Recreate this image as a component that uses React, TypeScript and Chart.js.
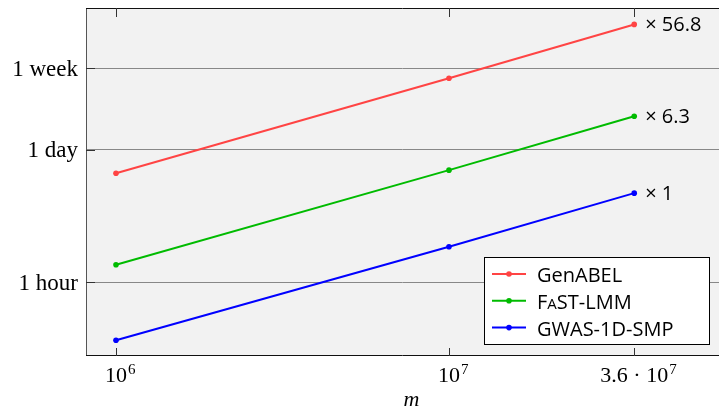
import React, { useEffect, useRef } from "react";
import { Chart, registerables } from "chart.js";
Chart.register(...registerables);

const sizes = [1e6, 1e7, 3.6e7];
const genabel = [49100, 476000, 1730000];
const fastlmm = [5480, 52800, 192000];
const gwas = [899, 8430, 30450];
const seriesNames = ["GenABEL", "FaST-LMM", "GWAS-1D-SMP"];
const seriesColors = ["#ff4444", "#00bb00", "#0000ff"];
const speedupLabels = ["× 56.8", "× 6.3", "× 1"];
const yTickValues = [3600, 86400, 604800];
const yTickLabels = ["1 hour", "1 day", "1 week"];
const xTickValues = [1e6, 1e7, 3.6e7];
const xTickBase = ["10", "10", "3.6 · 10"];
const xTickExp = ["6", "7", "7"];

const SERIF = "'Liberation Serif', 'Times New Roman', serif";
const SANS = "'Open Sans', 'Noto Sans', sans-serif";

const decorPlugin = {
  id: "decor",
  beforeDraw(chart: any) {
    const { ctx, chartArea: a } = chart;
    ctx.save();
    ctx.fillStyle = "#f2f2f2";
    ctx.fillRect(a.left, a.top, a.right - a.left, a.bottom - a.top);
    ctx.restore();
  },
  afterDraw(chart: any) {
    const { ctx, chartArea: a } = chart;
    const xs = chart.scales.x;
    const ys = chart.scales.y;
    ctx.save();
    // borders
    ctx.lineWidth = 1;
    ctx.strokeStyle = "#555555";
    ctx.beginPath();
    ctx.moveTo(a.left + 0.5, a.top);
    ctx.lineTo(a.left + 0.5, a.bottom);
    ctx.stroke();
    ctx.strokeStyle = "#111111";
    ctx.beginPath();
    ctx.moveTo(a.left, a.top + 0.5);
    ctx.lineTo(a.right, a.top + 0.5);
    ctx.moveTo(a.left, a.bottom - 0.5);
    ctx.lineTo(a.right, a.bottom - 0.5);
    ctx.stroke();
    // inward ticks
    ctx.strokeStyle = "#333333";
    ctx.beginPath();
    yTickValues.forEach((v) => {
      const y = Math.round(ys.getPixelForValue(v)) + 0.5;
      ctx.moveTo(a.left, y);
      ctx.lineTo(a.left + 9, y);
    });
    xTickValues.forEach((v) => {
      const x = Math.round(xs.getPixelForValue(v)) + 0.5;
      ctx.moveTo(x, a.bottom);
      ctx.lineTo(x, a.bottom - 8);
      ctx.moveTo(x, a.top);
      ctx.lineTo(x, a.top + 9);
    });
    ctx.stroke();
    // y labels
    ctx.fillStyle = "#000";
    ctx.font = `23px ${SERIF}`;
    ctx.textAlign = "right";
    ctx.textBaseline = "alphabetic";
    yTickValues.forEach((v, i) => {
      const y = ys.getPixelForValue(v);
      ctx.fillText(yTickLabels[i], a.left - 8, y + 7.5);
    });
    // x labels
    xTickValues.forEach((v, i) => {
      const x = xs.getPixelForValue(v);
      ctx.font = `22px ${SERIF}`;
      const bw = ctx.measureText(xTickBase[i]).width;
      ctx.textAlign = "left";
      const x0 = x - bw / 2;
      ctx.fillText(xTickBase[i], x0, a.bottom + 25.5);
      ctx.font = `15px ${SERIF}`;
      ctx.fillText(xTickExp[i], x0 + bw + 1, a.bottom + 18);
    });
    // x title
    ctx.font = `italic 22px ${SERIF}`;
    ctx.textAlign = "center";
    ctx.fillText("m", (a.left + a.right) / 2 + 9, a.bottom + 50);
    // speedup annotations
    ctx.font = `20px ${SANS}`;
    ctx.textAlign = "left";
    ctx.textBaseline = "middle";
    chart.data.datasets.forEach((_: any, i: number) => {
      const meta = chart.getDatasetMeta(i);
      const p = meta.data[meta.data.length - 1];
      ctx.fillText(speedupLabels[i], p.x + 11, p.y + 1);
    });
    // legend
    const bw = 226;
    const bh = 88;
    const bx = a.right - 9 - bw;
    const by = a.bottom - 11 - bh;
    ctx.fillStyle = "#ffffff";
    ctx.fillRect(bx, by, bw, bh);
    ctx.strokeStyle = "#000";
    ctx.lineWidth = 1;
    ctx.strokeRect(bx + 0.5, by + 0.5, bw - 1, bh - 1);
    seriesNames.forEach((name, i) => {
      const ry = by + 17 + i * 26.8;
      ctx.strokeStyle = seriesColors[i];
      ctx.lineWidth = 2;
      ctx.beginPath();
      ctx.moveTo(bx + 8, ry);
      ctx.lineTo(bx + 42, ry);
      ctx.stroke();
      ctx.fillStyle = seriesColors[i];
      ctx.beginPath();
      ctx.arc(bx + 25, ry, 2.8, 0, Math.PI * 2);
      ctx.fill();
      ctx.fillStyle = "#000";
      ctx.textBaseline = "alphabetic";
      ctx.textAlign = "left";
      const tx = bx + 53;
      const ty = ry + 8;
      if (name === "FaST-LMM") {
        ctx.font = `20px ${SANS}`;
        ctx.fillText("F", tx, ty);
        let w = ctx.measureText("F").width;
        ctx.font = `15px ${SANS}`;
        ctx.fillText("A", tx + w, ty);
        w += ctx.measureText("A").width;
        ctx.font = `20px ${SANS}`;
        ctx.fillText("ST-LMM", tx + w, ty);
      } else {
        ctx.font = `20px ${SANS}`;
        ctx.fillText(name, tx, ty);
      }
    });
    ctx.restore();
  },
};

export default function App() {
  const ref = useRef<HTMLCanvasElement | null>(null);
  useEffect(() => {
    document.body.style.margin = "0";
    const seriesData = [genabel, fastlmm, gwas];
    const chart = new Chart(ref.current as HTMLCanvasElement, {
      type: "line",
      data: {
        datasets: seriesData.map((vals, i) => ({
          label: seriesNames[i],
          data: sizes.map((x, j) => ({ x, y: vals[j] })),
          borderColor: seriesColors[i],
          backgroundColor: seriesColors[i],
          borderWidth: 2,
          pointRadius: 2.8,
          pointBorderWidth: 0,
          pointBackgroundColor: seriesColors[i],
          fill: false,
        })),
      },
      options: {
        responsive: false,
        animation: false,
        layout: { autoPadding: false, padding: { top: 8, left: 0, right: 0, bottom: 0 } },
        plugins: { legend: { display: false }, tooltip: { enabled: false } },
        scales: {
          x: {
            type: "logarithmic",
            bounds: "data",
            min: 8.127e5,
            max: 6.47e7,
            grid: { display: false, drawTicks: false },
            border: { display: false },
            ticks: { display: false },
            afterBuildTicks: (s: any) => {
              s.ticks = xTickValues.map((v) => ({ value: v }));
            },
            afterFit: (s: any) => {
              s.height = 56;
            },
          },
          y: {
            type: "logarithmic",
            bounds: "data",
            min: 616.6,
            max: 2.563e6,
            grid: { display: true, drawTicks: false, color: "#888888", lineWidth: 1 },
            border: { display: false },
            ticks: { display: false },
            afterBuildTicks: (s: any) => {
              s.ticks = yTickValues.map((v) => ({ value: v }));
            },
            afterFit: (s: any) => {
              s.width = 86;
            },
          },
        },
      },
      plugins: [decorPlugin],
    } as any);
    return () => chart.destroy();
  }, []);
  return <canvas ref={ref} width={719} height={412} style={{ display: "block" }} />;
}
